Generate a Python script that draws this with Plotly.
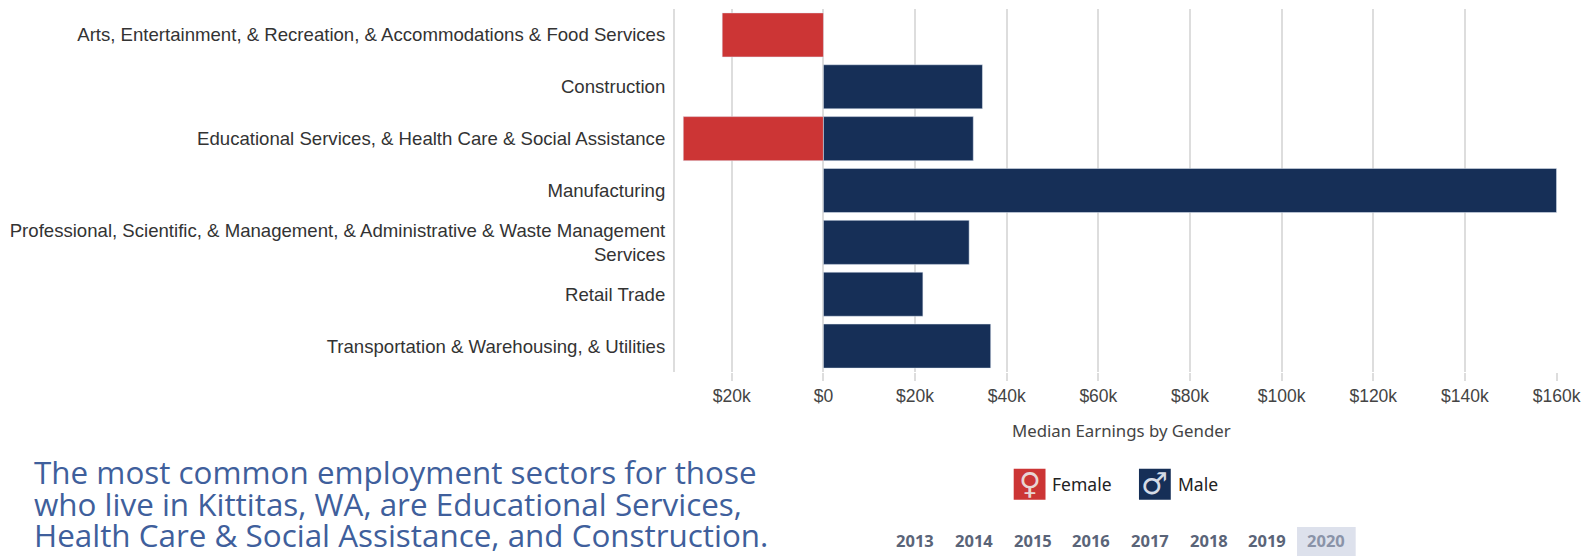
import plotly.graph_objects as go

categories = [
    "Arts, Entertainment, & Recreation, & Accommodations & Food Services",
    "Construction",
    "Educational Services, & Health Care & Social Assistance",
    "Manufacturing",
    "Professional, Scientific, & Management, & Administrative & Waste Management<br>Services",
    "Retail Trade",
    "Transportation & Warehousing, & Utilities",
]
female = [-22100, None, -30600, None, None, None, None]
male = [None, 34700, 32700, 160000, 31800, 21700, 36500]
tick_vals = [-20000, 0, 20000, 40000, 60000, 80000, 100000, 120000, 140000, 160000]
tick_text = ["$20k", "$0", "$20k", "$40k", "$60k", "$80k", "$100k", "$120k", "$140k", "$160k"]
years = ["2013", "2014", "2015", "2016", "2017", "2018", "2019", "2020"]
year_x = [916, 975, 1034, 1093, 1152, 1211, 1270, 1329]
sentence = [
    "The most common employment sectors for those",
    "who live in Kittitas, WA, are Educational Services,",
    "Health Care & Social Assistance, and Construction.",
]
sentence_y = [472, 503.5, 535]

W, H = 1590, 556
ML, MR, MT, MB = 674.3, 28.5, 9.4, 183.8
RED, NAVY = "#cc3535", "#162f57"


def px(x):
    return (x - ML) / (W - ML - MR)


def py(y):
    return (H - MB - y) / (H - MT - MB)


fig = go.Figure()
fig.add_bar(y=categories, x=female, orientation="h", name="Female", marker_color=RED, width=0.85)
fig.add_bar(y=categories, x=male, orientation="h", name="Male", marker_color=NAVY, width=0.85)

annotations = []
shapes = []


def note(x, y, text, size, color, family, anchor="left", bold=False):
    annotations.append(dict(
        x=px(x), y=py(y), xref="paper", yref="paper", text=f"<b>{text}</b>" if bold else text,
        showarrow=False, xanchor=anchor, yanchor="middle", borderpad=0, borderwidth=0,
        font=dict(size=size, color=color, family=family),
    ))


def box(x0, y0, x1, y1, color):
    shapes.append(dict(type="rect", xref="paper", yref="paper", x0=px(x0), x1=px(x1),
                       y0=py(y0), y1=py(y1), fillcolor=color, line_width=0, layer="below"))


note(1123, 431, "Median Earnings by Gender", 16.8, "#444444", "Noto Sans", "center")
box(1015, 469, 1047, 500, RED)
box(1141, 469, 1173, 500, NAVY)
note(1031, 484, "♀", 30, "#e8d5d5", "DejaVu Sans", "center")
note(1157, 484, "♂", 30, "#d5dbe6", "DejaVu Sans", "center")
note(1054, 484, "Female", 17.5, "#222222", "Noto Sans")
note(1180, 484, "Male", 17.5, "#222222", "Noto Sans")

box(1300, 527, 1359, 556, "#dde1ec")
for yr, x in zip(years, year_x):
    note(x, 541, yr, 16.5, "#8a93a8" if yr == "2020" else "#5a6478", "Noto Sans", "center", bold=True)

for line, y in zip(sentence, sentence_y):
    note(30, y, line, 31.4, "#3f5f9c", "Open Sans")

fig.update_layout(
    width=W, height=H, autosize=False,
    margin=dict(l=ML, r=MR, t=MT, b=MB, pad=0),
    paper_bgcolor="white", plot_bgcolor="white",
    barmode="relative", showlegend=False,
    annotations=annotations, shapes=shapes,
    font=dict(family="Liberation Sans", color="#444444", size=16),
    xaxis=dict(
        range=[-32400, 160100], tickvals=tick_vals, ticktext=tick_text,
        showgrid=True, gridcolor="#dddddd", gridwidth=2,
        ticks="outside", ticklen=8, tickcolor="#dddddd", tickwidth=2,
        zeroline=False, showline=False, tickfont=dict(size=17.5, color="#444444"),
    ),
    yaxis=dict(
        categoryorder="array", categoryarray=categories, autorange="reversed",
        showgrid=False, zeroline=False, showline=True, linecolor="#dddddd", linewidth=2,
        ticks="outside", ticklen=4, tickcolor="rgba(0,0,0,0)",
        tickfont=dict(size=18.6, color="#333333"),
    ),
)
fig.write_html("out.html", post_script="document.body.style.margin='0';",
               config={"displayModeBar": False})
